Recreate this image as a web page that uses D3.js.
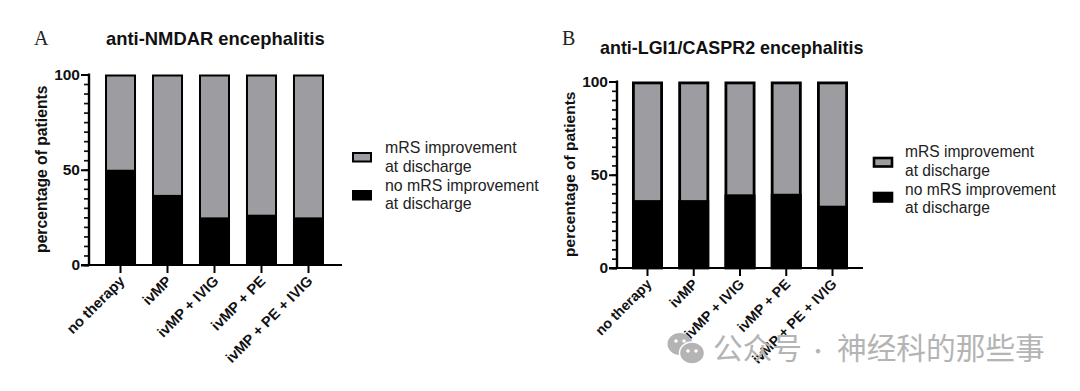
<!DOCTYPE html>
<html><head><meta charset="utf-8">
<script src="https://cdn.jsdelivr.net/npm/d3@7"></script>
<style>html,body{margin:0;padding:0;background:#fff}svg{display:block}</style>
</head><body><svg id="c" width="1080" height="391"></svg>
<script>
const categories = ["no therapy","ivMP","ivMP + IVIG","ivMP + PE","ivMP + PE + IVIG"];
const seriesLabels = [["mRS improvement","at discharge"],["no mRS improvement","at discharge"]];
const noImprovementA = [50,36.8,25,26.4,25];
const noImprovementB = [36.4,36.4,39.5,39.8,33.4];
const majorTicks = [0,50,100];
const minorTicks = d3.range(0,101,5);
const titleA = "anti-NMDAR encephalitis";
const titleB = "anti-LGI1/CASPR2 encephalitis";
const watermarkA = "公众号";
const watermarkDot = "·";
const watermarkB = "神经科的那些事";

const svg = d3.select("#c");
const SANS = "'Liberation Sans',Arial,sans-serif";
const GREY = "#9c9ca1";

function panel(o){
  const g = svg.append("g");
  const y = d3.scaleLinear().domain([0,100]).range([o.y0,o.y100]);
  const x = d3.scaleBand().domain(categories).range([o.xl,o.xr]).paddingInner(o.pad).paddingOuter(0);
  const sw = o.sw;
  const bars = g.selectAll("g.b").data(categories).join("g");
  bars.append("rect").attr("x",c=>x(c)+sw/2).attr("width",x.bandwidth()-sw)
    .attr("y",y(100)+sw/2).attr("height",y(0)-y(100)-sw/2)
    .attr("fill",GREY).attr("stroke","#000").attr("stroke-width",sw);
  bars.append("rect").attr("x",c=>x(c)).attr("width",x.bandwidth())
    .attr("y",(c,i)=>y(o.values[i])).attr("height",(c,i)=>y(0)-y(o.values[i])).attr("fill","#000");
  const ay = g.append("g").attr("transform",`translate(${o.ax},0)`);
  ay.call(d3.axisLeft(y).tickValues(minorTicks).tickSize(5).tickFormat(""));
  ay.selectAll("line").attr("stroke","#111").attr("stroke-width",1.7);
  ay.select(".domain").remove();
  const ay2 = g.append("g").attr("transform",`translate(${o.ax},0)`);
  ay2.call(d3.axisLeft(y).tickValues(majorTicks).tickSize(8).tickPadding(1));
  ay2.select(".domain").remove();
  ay2.selectAll("line").attr("stroke","#000").attr("stroke-width",2);
  ay2.selectAll("text").attr("font-family",SANS).attr("font-weight","bold").attr("font-size",15.5).attr("fill","#111");
  g.append("line").attr("x1",o.ax).attr("x2",o.ax).attr("y1",y(100)-1).attr("y2",y(0)+1).attr("stroke","#000").attr("stroke-width",2.4);
  const ax = g.append("g").attr("transform",`translate(0,${o.y0})`);
  ax.call(d3.axisBottom(x).tickSize(8).tickPadding(0).tickFormat(""));
  ax.select(".domain").remove();
  ax.selectAll("line").attr("stroke","#000").attr("stroke-width",2);
  g.append("line").attr("x1",o.ax-8).attr("x2",o.axEnd).attr("y1",o.y0).attr("y2",o.y0).attr("stroke","#000").attr("stroke-width",2.2);
  g.selectAll("text.xl").data(categories).join("text").attr("class","xl")
    .attr("transform",c=>`translate(${x(c)+x.bandwidth()/2+o.lx},${o.y0+o.ly}) rotate(-45)`)
    .attr("text-anchor","end").attr("font-family",SANS).attr("font-weight","bold")
    .attr("font-size",o.fs).attr("fill","#111").text(c=>c);
  g.append("text").attr("transform",`translate(${o.ylx},${(o.y0+o.y100)/2-0.5}) rotate(-90)`)
    .attr("text-anchor","middle").attr("font-family",SANS).attr("font-weight","bold")
    .attr("font-size",o.ylfs).attr("fill","#111").text("percentage of patients");
  g.append("text").attr("x",o.tx).attr("y",o.ty).attr("font-family",SANS).attr("font-weight","bold")
    .attr("font-size",o.tfs).attr("fill","#111").text(o.title);
  g.append("text").attr("x",o.px).attr("y",o.py).attr("font-family","'Liberation Serif',serif")
    .attr("font-size",20).attr("fill","#222").text(o.letter);
  const colours=[GREY,"#000"];
  seriesLabels.forEach((lines,i)=>{
    const ly=o.legY+i*o.legStep;
    g.append("rect").attr("x",o.legX+1).attr("y",ly-4).attr("width",18).attr("height",8.5)
      .attr("fill",colours[i]).attr("stroke","#000").attr("stroke-width",o.legSw);
    lines.forEach((t,j)=>{
      g.append("text").attr("x",o.legX+o.legDx).attr("y",o.legTextY+i*37.5+j*18.5).attr("font-family",SANS)
        .attr("font-size",o.legFs).attr("fill","#222").text(t);
    });
  });
}
panel({values:noImprovementA,title:titleA,letter:"A",xl:105,xr:324,pad:0.34,y0:265,y100:74.5,ax:89,axEnd:342,sw:2,
  lx:5,ly:17,fs:14.6,ylx:47,ylfs:15.7,tx:106,ty:45,tfs:18.4,px:34,py:45,
  legX:352,legY:157,legStep:38,legSw:2,legDx:33,legFs:15.9,legTextY:153});
panel({values:noImprovementB,title:titleB,letter:"B",xl:632,xr:848,pad:0.33,y0:268,y100:81.5,ax:617,axEnd:863,sw:2.8,
  lx:5,ly:17,fs:14.2,ylx:575,ylfs:15.5,tx:600,ty:54,tfs:17.9,px:562,py:45,
  legX:873,legY:162,legStep:35,legSw:2.6,legDx:32,legFs:15.6,legTextY:157});

const w = svg.append("g").attr("fill","#b4b4b4");
w.append("ellipse").attr("cx",680).attr("cy",344).attr("rx",12.5).attr("ry",11);
w.append("ellipse").attr("cx",692).attr("cy",353).attr("rx",12.5).attr("ry",11).attr("stroke","#fff").attr("stroke-width",1.5);
[[676,341],[684,341],[688,351],[696,351]].forEach(p=>w.append("circle").attr("cx",p[0]).attr("cy",p[1]).attr("r",1.8).attr("fill","#fff"));
const wf = "'Noto Sans CJK SC',sans-serif";
w.append("text").attr("x",713).attr("y",359).attr("font-family",wf).attr("font-size",29.7).text(watermarkA);
w.append("text").attr("x",818).attr("y",359).attr("text-anchor","middle").attr("font-family",wf).attr("font-size",20).text(watermarkDot);
w.append("text").attr("x",837).attr("y",359).attr("font-family",wf).attr("font-size",29.7).text(watermarkB);
</script></body></html>
